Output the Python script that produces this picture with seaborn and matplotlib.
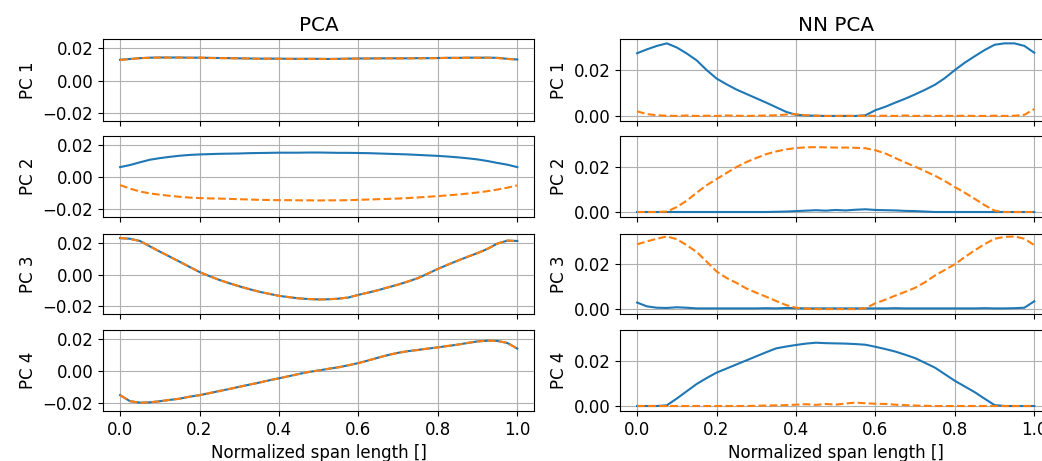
import numpy as np
import pandas as pd
import matplotlib
matplotlib.use("Agg")
import matplotlib.pyplot as plt
import seaborn as sns

# Normalized span positions
span = [0.000, 0.025, 0.050, 0.075, 0.100, 0.125, 0.150, 0.175, 0.200, 0.225,
        0.250, 0.275, 0.300, 0.325, 0.350, 0.375, 0.400, 0.425, 0.450, 0.475,
        0.500, 0.525, 0.550, 0.575, 0.600, 0.625, 0.650, 0.675, 0.700, 0.725,
        0.750, 0.775, 0.800, 0.825, 0.850, 0.875, 0.900, 0.925, 0.950, 0.975,
        1.000]

# ---- PCA loadings (solid = reference, dashed = reconstruction) ----
pca_pc1_a = [0.0128, 0.0133, 0.0138, 0.0141, 0.0142, 0.0142, 0.0142, 0.0141, 0.0141, 0.0140,
             0.0139, 0.0138, 0.0137, 0.0136, 0.0135, 0.0135, 0.0135, 0.0134, 0.0134, 0.0134,
             0.0134, 0.0133, 0.0134, 0.0135, 0.0136, 0.0136, 0.0137, 0.0137, 0.0137, 0.0137,
             0.0138, 0.0138, 0.0139, 0.0140, 0.0140, 0.0141, 0.0141, 0.0141, 0.0140, 0.0134,
             0.0130]
pca_pc1_b = [0.0127, 0.0132, 0.0138, 0.0140, 0.0142, 0.0141, 0.0142, 0.0140, 0.0141, 0.0139,
             0.0138, 0.0138, 0.0136, 0.0136, 0.0134, 0.0135, 0.0134, 0.0134, 0.0133, 0.0134,
             0.0133, 0.0133, 0.0133, 0.0135, 0.0135, 0.0136, 0.0136, 0.0137, 0.0136, 0.0137,
             0.0137, 0.0138, 0.0138, 0.0140, 0.0139, 0.0141, 0.0140, 0.0141, 0.0139, 0.0133,
             0.0129]

pca_pc2_a = [0.0062, 0.0075, 0.0092, 0.0108, 0.0118, 0.0126, 0.0133, 0.0138, 0.0141, 0.0143,
             0.0145, 0.0146, 0.0147, 0.0149, 0.0150, 0.0151, 0.0152, 0.0152, 0.0152, 0.0153,
             0.0153, 0.0152, 0.0151, 0.0151, 0.0150, 0.0149, 0.0147, 0.0145, 0.0143, 0.0141,
             0.0138, 0.0135, 0.0132, 0.0128, 0.0123, 0.0117, 0.0110, 0.0100, 0.0088, 0.0077,
             0.0062]
pca_pc2_b = [-0.0050, -0.0072, -0.0090, -0.0102, -0.0110, -0.0117, -0.0123, -0.0128, -0.0131, -0.0133,
             -0.0134, -0.0136, -0.0138, -0.0140, -0.0142, -0.0143, -0.0144, -0.0144, -0.0145, -0.0145,
             -0.0146, -0.0145, -0.0145, -0.0144, -0.0142, -0.0140, -0.0138, -0.0136, -0.0134, -0.0131,
             -0.0127, -0.0123, -0.0119, -0.0114, -0.0109, -0.0103, -0.0096, -0.0088, -0.0078, -0.0066,
             -0.0052]

pca_pc3_a = [0.0230, 0.0226, 0.0212, 0.0178, 0.0145, 0.0113, 0.0081, 0.0048, 0.0016, -0.0010,
             -0.0034, -0.0055, -0.0074, -0.0092, -0.0108, -0.0122, -0.0134, -0.0143, -0.0150, -0.0155,
             -0.0157, -0.0156, -0.0152, -0.0145, -0.0128, -0.0114, -0.0098, -0.0081, -0.0063, -0.0044,
             -0.0022, 0.0006, 0.0036, 0.0062, 0.0088, 0.0112, 0.0136, 0.0162, 0.0196, 0.0214,
             0.0212]
pca_pc3_b = [0.0231, 0.0225, 0.0211, 0.0179, 0.0144, 0.0114, 0.0080, 0.0049, 0.0015, -0.0009,
             -0.0035, -0.0054, -0.0075, -0.0091, -0.0109, -0.0121, -0.0135, -0.0142, -0.0151, -0.0154,
             -0.0158, -0.0155, -0.0153, -0.0144, -0.0129, -0.0113, -0.0099, -0.0080, -0.0064, -0.0043,
             -0.0023, 0.0007, 0.0035, 0.0063, 0.0087, 0.0113, 0.0135, 0.0163, 0.0195, 0.0215,
             0.0211]

pca_pc4_a = [-0.0150, -0.0188, -0.0197, -0.0195, -0.0188, -0.0180, -0.0172, -0.0160, -0.0150, -0.0138,
             -0.0124, -0.0112, -0.0098, -0.0085, -0.0072, -0.0058, -0.0045, -0.0032, -0.0018, -0.0006,
             0.0004, 0.0014, 0.0024, 0.0036, 0.0050, 0.0066, 0.0084, 0.0100, 0.0114, 0.0124,
             0.0132, 0.0140, 0.0148, 0.0156, 0.0165, 0.0175, 0.0185, 0.0189, 0.0188, 0.0175,
             0.0140]
pca_pc4_b = [-0.0151, -0.0187, -0.0198, -0.0194, -0.0189, -0.0179, -0.0173, -0.0159, -0.0151, -0.0137,
             -0.0125, -0.0111, -0.0099, -0.0084, -0.0073, -0.0057, -0.0046, -0.0031, -0.0019, -0.0005,
             0.0003, 0.0015, 0.0023, 0.0037, 0.0049, 0.0067, 0.0083, 0.0101, 0.0113, 0.0125,
             0.0131, 0.0141, 0.0147, 0.0157, 0.0164, 0.0176, 0.0184, 0.0190, 0.0187, 0.0176,
             0.0139]

# ---- Non-negative PCA loadings ----
nn_pc1_a = [0.0273, 0.0290, 0.0305, 0.0316, 0.0298, 0.0272, 0.0242, 0.0200, 0.0163, 0.0138,
            0.0115, 0.0096, 0.0077, 0.0058, 0.0038, 0.0018, 0.0005, 0.0002, 0.0001, 0.0000,
            0.0000, 0.0000, 0.0000, 0.0003, 0.0025, 0.0040, 0.0058, 0.0075, 0.0094, 0.0114,
            0.0136, 0.0165, 0.0200, 0.0232, 0.0260, 0.0287, 0.0310, 0.0316, 0.0316, 0.0305,
            0.0275]
nn_pc1_b = [0.0020, 0.0008, 0.0003, 0.0001, 0.0000, 0.0002, 0.0000, 0.0001, 0.0000, 0.0002,
            0.0001, 0.0000, 0.0001, 0.0002, 0.0003, 0.0006, 0.0008, 0.0003, 0.0001, 0.0000,
            0.0000, 0.0001, 0.0000, 0.0001, 0.0000, 0.0001, 0.0000, 0.0002, 0.0000, 0.0001,
            0.0000, 0.0001, 0.0000, 0.0001, 0.0000, 0.0000, 0.0001, 0.0000, 0.0001, 0.0005,
            0.0030]

nn_pc2_a = [0.0000, 0.0000, 0.0000, 0.0000, 0.0000, 0.0000, 0.0000, 0.0000, 0.0000, 0.0000,
            0.0000, 0.0000, 0.0000, 0.0000, 0.0001, 0.0002, 0.0004, 0.0006, 0.0008, 0.0006,
            0.0009, 0.0007, 0.0010, 0.0012, 0.0009, 0.0008, 0.0007, 0.0005, 0.0004, 0.0002,
            0.0000, 0.0000, 0.0000, 0.0000, 0.0000, 0.0000, 0.0000, 0.0000, 0.0000, 0.0000,
            0.0000]
nn_pc2_b = [0.0000, 0.0000, 0.0000, 0.0002, 0.0022, 0.0050, 0.0085, 0.0118, 0.0145, 0.0172,
            0.0198, 0.0220, 0.0238, 0.0255, 0.0267, 0.0276, 0.0282, 0.0285, 0.0286, 0.0285,
            0.0284, 0.0284, 0.0283, 0.0281, 0.0272, 0.0258, 0.0238, 0.0218, 0.0200, 0.0180,
            0.0160, 0.0136, 0.0110, 0.0085, 0.0058, 0.0030, 0.0006, 0.0000, 0.0000, 0.0000,
            0.0000]

nn_pc3_a = [0.0029, 0.0012, 0.0006, 0.0005, 0.0008, 0.0006, 0.0003, 0.0003, 0.0003, 0.0003,
            0.0003, 0.0003, 0.0003, 0.0004, 0.0003, 0.0005, 0.0004, 0.0003, 0.0003, 0.0003,
            0.0003, 0.0003, 0.0003, 0.0003, 0.0003, 0.0003, 0.0004, 0.0003, 0.0003, 0.0003,
            0.0003, 0.0003, 0.0003, 0.0003, 0.0003, 0.0004, 0.0003, 0.0003, 0.0004, 0.0006,
            0.0035]
nn_pc3_b = [0.0289, 0.0302, 0.0314, 0.0324, 0.0312, 0.0285, 0.0255, 0.0212, 0.0168, 0.0139,
            0.0117, 0.0092, 0.0073, 0.0055, 0.0036, 0.0018, 0.0006, 0.0002, 0.0000, 0.0000,
            0.0000, 0.0000, 0.0000, 0.0004, 0.0026, 0.0042, 0.0060, 0.0077, 0.0095, 0.0120,
            0.0150, 0.0175, 0.0200, 0.0232, 0.0262, 0.0290, 0.0314, 0.0322, 0.0324, 0.0314,
            0.0285]

nn_pc4_a = [0.0000, 0.0000, 0.0000, 0.0003, 0.0033, 0.0065, 0.0097, 0.0123, 0.0147, 0.0165,
            0.0183, 0.0201, 0.0219, 0.0237, 0.0254, 0.0262, 0.0269, 0.0275, 0.0279, 0.0277,
            0.0276, 0.0275, 0.0273, 0.0270, 0.0261, 0.0251, 0.0240, 0.0226, 0.0211, 0.0190,
            0.0169, 0.0140, 0.0111, 0.0086, 0.0061, 0.0032, 0.0004, 0.0000, 0.0000, 0.0000,
            0.0000]
nn_pc4_b = [0.0000, 0.0000, 0.0000, 0.0000, 0.0000, 0.0000, 0.0000, 0.0000, 0.0000, 0.0000,
            0.0000, 0.0000, 0.0001, 0.0002, 0.0003, 0.0004, 0.0006, 0.0008, 0.0005, 0.0009,
            0.0006, 0.0011, 0.0015, 0.0012, 0.0010, 0.0009, 0.0006, 0.0004, 0.0002, 0.0001,
            0.0000, 0.0000, 0.0000, 0.0000, 0.0000, 0.0000, 0.0000, 0.0000, 0.0000, 0.0000,
            0.0000]

row_labels = ["PC 1", "PC 2", "PC 3", "PC 4"]
col_titles = ["PCA", "NN PCA"]
x_ticks = [0.0, 0.2, 0.4, 0.6, 0.8, 1.0]

panels = [
    [(pca_pc1_a, pca_pc1_b), (nn_pc1_a, nn_pc1_b)],
    [(pca_pc2_a, pca_pc2_b), (nn_pc2_a, nn_pc2_b)],
    [(pca_pc3_a, pca_pc3_b), (nn_pc3_a, nn_pc3_b)],
    [(pca_pc4_a, pca_pc4_b), (nn_pc4_a, nn_pc4_b)],
]

plt.rcParams["font.size"] = 12
plt.rcParams["font.family"] = ["DejaVu Sans"]

W, H = 1042, 461
fig = plt.figure(figsize=(W / 100, H / 100), dpi=100)

row_px = [(39, 121), (136, 217), (234, 314), (330, 411)]
col_left_px = [103, 620]
ax_w_px = 431
ylims = [(-0.0249, 0.0256), (-0.0022, 0.0335)]

axes = [[None, None] for _ in range(4)]
for c in range(2):
    for r in range(4):
        top, bot = row_px[r]
        rect = [col_left_px[c] / W, 1 - bot / H, ax_w_px / W, (bot - top) / H]
        share_x = axes[0][0] if (r, c) != (0, 0) else None
        share_y = axes[0][c] if r > 0 else None
        ax = fig.add_axes(rect, sharex=share_x, sharey=share_y)
        axes[r][c] = ax

        solid, dashed = panels[r][c]
        df = pd.DataFrame({"span": span, "solid": solid, "dashed": dashed})
        sns.lineplot(data=df, x="span", y="solid", ax=ax, color="C0",
                     linewidth=1.5, linestyle="-")
        sns.lineplot(data=df, x="span", y="dashed", ax=ax, color="C1",
                     linewidth=1.5, linestyle="--")

        ax.grid(True, color="#b0b0b0", linewidth=0.8)
        ax.set_ylabel(row_labels[r])
        ax.set_xlabel("")
        ax.set_xticks(x_ticks)
        ax.set_xlim(-0.043, 1.042)
        ax.set_ylim(*ylims[c])
        if c == 0:
            ax.set_yticks([-0.02, 0.0, 0.02])
        else:
            ax.set_yticks([0.0, 0.02])
        if r == 0:
            ax.set_title(col_titles[c])
        if r < 3:
            ax.tick_params(labelbottom=False)
        else:
            ax.set_xlabel("Normalized span length []")

fig.savefig("out.png", dpi=100)
